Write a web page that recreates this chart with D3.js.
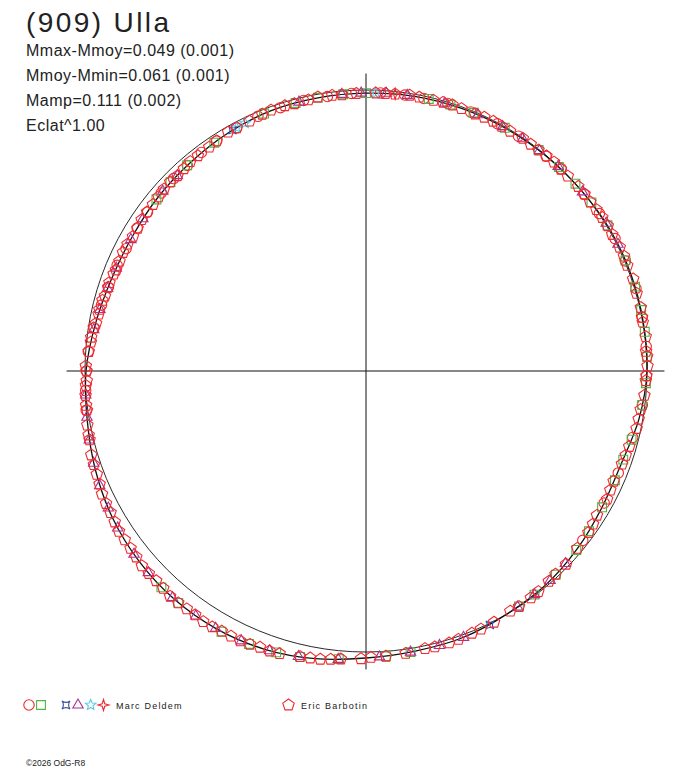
<!DOCTYPE html>
<html>
<head>
<meta charset="utf-8">
<script src="https://cdn.jsdelivr.net/npm/d3@7"></script>
<style>
    body { margin: 0; background: #fff; }
    text { font-family: "Liberation Sans", Arial, sans-serif; fill: #222; }
</style>
</head>
<body>
<script>
// (909) Ulla - polar light curve, phase in degrees (clockwise from top), mag relative to mean

var titleText = "(909) Ulla";
var infoLines = ["Mmax-Mmoy=0.049 (0.001)", "Mmoy-Mmin=0.061 (0.001)", "Mamp=0.111 (0.002)", "Eclat^1.00"];
var observers = ["Marc Deldem", "Eric Barbotin"];
var copyright = "\u00a92026 OdG-R8";

// Fitted curve
var fitPhase = [0, 10, 20, 30, 40, 50, 60, 70, 80, 90, 100, 110, 120, 130, 140, 150, 160, 170,
    180, 190, 200, 210, 220, 230, 240, 250, 260, 270, 280, 290, 300, 310, 320, 330, 340, 350];
var fitMag = [0.012, 0.008, 0.006, 0.004, 0.002, 0.000, -0.004, -0.004, -0.002, 0.000, 0.015, 0.037,
    0.033, 0.019, 0.006, 0.000, -0.010, -0.013, -0.023, -0.042, -0.057, -0.064, -0.064, -0.057,
    -0.045, -0.027, -0.008, 0.004, 0.025, 0.041, 0.045, 0.039, 0.033, 0.023, 0.015, 0.014];

// Observations: [phase, mag]
var deldemCircle = [[262, -0.006], [266, 0.000], [270, 0.005], [274, 0.010], [279, 0.022], [284, 0.033],
    [288, 0.040], [293, 0.042], [297, 0.046], [302, 0.044], [306, 0.043], [311, 0.038], [315, 0.035],
    [319, 0.034], [323, 0.029], [327, 0.027], [332, 0.022], [337, 0.017], [342, 0.016], [347, 0.013],
    [352, 0.015], [357, 0.012], [3, 0.010], [8, 0.009], [12, 0.009], [17, 0.005], [22, 0.006], [28, 0.004],
    [33, 0.004], [40, 0.003], [44, 0.000], [51, 0.001], [56, -0.002], [62, -0.004], [67, -0.003],
    [73, -0.005], [79, -0.001], [85, -0.001], [91, 0.002], [97, 0.010], [104, 0.024], [112, 0.035],
    [119, 0.034], [128, 0.023]];
var deldemSquare = [[0, 0.012], [13, 0.007], [17.6, 0.006], [22.6, 0.005], [29.7, 0.004], [38, 0.002],
    [43.4, 0.001], [48.2, 0.000], [53.2, -0.002], [58.9, -0.004], [66.9, -0.004], [72.6, -0.004],
    [77.5, -0.003], [82, -0.002], [87.1, -0.001], [92.5, 0.003], [97, 0.011], [104.5, 0.026], [109, 0.035],
    [113.7, 0.036], [120, 0.033], [125.7, 0.025], [130.4, 0.019], [137, 0.010], [143, 0.004], [147, 0.001],
    [171, -0.014], [176, -0.019], [185.4, -0.032], [193, -0.047], [197.7, -0.054], [203.2, -0.060],
    [209, -0.064], [219, -0.065], [223.4, -0.063], [309.3, 0.040], [314, 0.036], [319, 0.033],
    [326.4, 0.027], [338.4, 0.016], [345.3, 0.015], [350, 0.014], [355.3, 0.013]];
var deldemConcave = [[154, -0.006], [331, 0.022]];
var deldemTriangle = [[4.2, 0.010], [8.5, 0.009], [16.4, 0.007], [23.6, 0.005], [29.2, 0.004], [34, 0.003],
    [38.2, 0.002], [43.2, 0.001], [50.4, 0.000], [58.4, -0.004], [63.3, -0.004], [134, 0.015],
    [138.7, 0.008], [143, 0.004], [147.3, 0.002], [159.9, -0.010], [165, -0.012], [171, -0.014],
    [177.3, -0.020], [185.5, -0.033], [193.3, -0.047], [199, -0.056], [204.8, -0.061], [210.3, -0.064],
    [214.8, -0.065], [220.5, -0.064], [227.2, -0.059], [231.7, -0.055], [237.7, -0.048], [242, -0.041],
    [246.7, -0.034], [251.3, -0.025], [256, -0.016], [260.6, -0.007], [265.1, -0.001], [278.6, 0.022],
    [283, 0.031], [287.7, 0.038], [292.4, 0.043], [299.2, 0.046], [304.3, 0.043], [311.5, 0.038],
    [316, 0.037], [346, 0.015], [355, 0.013], [359, 0.012]];
var deldemStar = [[332, 0.021], [334, 0.020], [2, 0.011]];
var deldemStar4 = [[6, 0.009]];
var barbotinPentagon = [[2, 0.011], [6, 0.010], [9, 0.007], [14, 0.008], [18, 0.005], [23, 0.007],
    [27, 0.003], [31, 0.005], [34, 0.002], [38, 0.003], [42, 0.000], [46, 0.002], [49, -0.001], [53, 0.001],
    [57, -0.003], [61, -0.002], [64, -0.005], [68, -0.003], [71, -0.006], [74, -0.002], [77, -0.004],
    [80, 0.000], [83, -0.003], [86, 0.001], [89, -0.002], [92, 0.004], [95, 0.006], [98, 0.014],
    [102, 0.017], [106, 0.028], [110, 0.034], [114, 0.039], [118, 0.031], [122, 0.034], [126, 0.024],
    [130, 0.020], [134, 0.011], [139, 0.009], [144, 0.002], [149, 0.003], [153, -0.004], [158, -0.007],
    [163, -0.013], [168, -0.011], [172, -0.016], [176, -0.019], [181, -0.026], [185, -0.031], [189, -0.041],
    [193, -0.046], [197, -0.055], [201, -0.056], [205, -0.063], [209, -0.062], [213, -0.067], [217, -0.063],
    [221, -0.066], [225, -0.059], [229, -0.060], [233, -0.052], [237, -0.051], [241, -0.042], [245, -0.039],
    [249, -0.028], [253, -0.024], [256, -0.015], [259, -0.011], [262, -0.003], [265, -0.002], [268, 0.006],
    [271, 0.003], [274, 0.012], [277, 0.016], [280, 0.027], [283, 0.029], [286, 0.037], [289, 0.038],
    [292, 0.045], [296, 0.042], [300, 0.047], [304, 0.041], [308, 0.042], [312, 0.036], [316, 0.038],
    [320, 0.030], [325, 0.030], [330, 0.020], [335, 0.021], [340, 0.013], [345, 0.017], [350, 0.011],
    [355, 0.015],
    [4, 0.011], [11, 0.008], [16, 0.006], [20, 0.007], [25, 0.004], [29, 0.005], [36, 0.003], [40, 0.001],
    [44, 0.002], [51, -0.001], [55, -0.001], [59, -0.004], [66, -0.005], [79, -0.001], [87, -0.002],
    [91, 0.002], [100, 0.016], [108, 0.031], [116, 0.036], [124, 0.028], [137, 0.012], [142, 0.004],
    [147, 0.000], [156, -0.006], [161, -0.011], [166, -0.013], [179, -0.021], [187, -0.036], [191, -0.043],
    [199, -0.057], [203, -0.060], [207, -0.062], [211, -0.066], [215, -0.063], [219, -0.065], [223, -0.061],
    [227, -0.060], [231, -0.055], [235, -0.051], [239, -0.046], [243, -0.041], [247, -0.032], [251, -0.026],
    [257, -0.014], [263, -0.004], [267, 0.002], [270, 0.006], [276, 0.017], [279, 0.021], [282, 0.030],
    [285, 0.032], [288, 0.039], [291, 0.042], [294, 0.044], [298, 0.043], [302, 0.046], [306, 0.041],
    [310, 0.040], [314, 0.035], [318, 0.035], [322, 0.031], [327, 0.026], [332, 0.022], [338, 0.016],
    [343, 0.014], [348, 0.015], [353, 0.013], [358, 0.013]];

// Custom marker shapes, size = radius in px
var symCircle = { draw: function (c, r) { c.moveTo(r, 0); c.arc(0, 0, r, 0, 2 * Math.PI); } };
var symSquare = { draw: function (c, r) { c.rect(-r, -r, 2 * r, 2 * r); } };
function polygonType(n, inner) {
    return {
        draw: function (c, r) {
            var k = inner ? 2 * n : n;
            for (var i = 0; i < k; i++) {
                var a = -Math.PI / 2 + i * 2 * Math.PI / k;
                var rr = (inner && i % 2) ? r * inner : r;
                if (i === 0) c.moveTo(rr * Math.cos(a), rr * Math.sin(a));
                else c.lineTo(rr * Math.cos(a), rr * Math.sin(a));
            }
            c.closePath();
        }
    };
}
var symConcave = {
    draw: function (c, s) {
        c.moveTo(-s, -s);
        c.quadraticCurveTo(0, -s * 0.3, s, -s);
        c.quadraticCurveTo(s * 0.3, 0, s, s);
        c.quadraticCurveTo(0, s * 0.3, -s, s);
        c.quadraticCurveTo(-s * 0.3, 0, -s, -s);
        c.closePath();
    }
};

var series = [
    { data: deldemCircle, type: symCircle, size: 5.2, color: "#ee2b2f" },
    { data: deldemSquare, type: symSquare, size: 4.4, color: "#52b447" },
    { data: deldemConcave, type: symConcave, size: 4, color: "#3b4fa3" },
    { data: deldemTriangle, type: polygonType(3), size: 6, color: "#a8328e" },
    { data: deldemStar, type: polygonType(5, 0.45), size: 5.5, color: "#5cc8e6" },
    { data: deldemStar4, type: polygonType(4, 0.32), size: 5.5, color: "#e8282e" },
    { data: barbotinPentagon, type: polygonType(5), size: 6, color: "#ee2b2f" }
];

var width = 688, height = 768;
var cx = 366, cy = 371;

var svg = d3.select("body").append("svg")
    .attr("width", width)
    .attr("height", height);

// Scales: phase -> angle, flux -> radius
var angle = d3.scaleLinear().domain([0, 360]).range([0, 2 * Math.PI]);
var radius = d3.scaleLinear().domain([0, 1]).range([0, 281]);
function flux(m) { return Math.pow(10, -0.4 * m); }

var plot = svg.append("g").attr("transform", "translate(" + cx + "," + cy + ")");

// Axes
var ext = radius(1.062);
plot.append("line").attr("x1", -ext - 1).attr("x2", ext).attr("y1", 0).attr("y2", 0)
    .attr("stroke", "#111").attr("stroke-width", 1);
plot.append("line").attr("x1", 0).attr("x2", 0).attr("y1", -ext + 1).attr("y2", ext)
    .attr("stroke", "#111").attr("stroke-width", 1);

// Mean circle
plot.append("circle").attr("r", radius(1))
    .attr("fill", "none").attr("stroke", "#111").attr("stroke-width", 0.9);

// Fitted curve
var fit = fitPhase.map(function (p, i) { return [p, fitMag[i]]; });
var fitLine = d3.lineRadial()
    .angle(function (d) { return angle(d[0]); })
    .radius(function (d) { return radius(flux(d[1])); })
    .curve(d3.curveCatmullRomClosed);
plot.append("path").datum(fit)
    .attr("d", fitLine)
    .attr("fill", "none").attr("stroke", "#111").attr("stroke-width", 1.3);

// Observations
series.forEach(function (s) {
    var sym = d3.symbol().type(s.type).size(s.size);
    plot.append("g").selectAll("path")
        .data(s.data)
        .join("path")
        .attr("transform", function (d) {
            var p = d3.pointRadial(angle(d[0]), radius(flux(d[1])));
            return "translate(" + p[0] + "," + p[1] + ")";
        })
        .attr("d", sym)
        .attr("fill", "none")
        .attr("stroke", s.color)
        .attr("stroke-width", 1.1);
});

// Title and info
svg.append("text").attr("x", 26).attr("y", 32)
    .attr("font-size", "28px").attr("letter-spacing", "2.4px").text(titleText);
svg.selectAll(".info").data(infoLines).join("text")
    .attr("class", "info")
    .attr("x", 26).attr("y", function (d, i) { return 56 + i * 25; })
    .attr("font-size", "16px").attr("letter-spacing", "0.5px")
    .text(function (d) { return d; });

// Legend
var legendY = 705;
var legendMarks = [[29, 0], [41, 1], [66, 2], [78, 3], [90.7, 4], [103.5, 5], [288.5, 6]];
legendMarks.forEach(function (m) {
    var s = series[m[1]];
    svg.append("path")
        .attr("transform", "translate(" + m[0] + "," + legendY + ")")
        .attr("d", d3.symbol().type(s.type).size(s.size))
        .attr("fill", "none").attr("stroke", s.color).attr("stroke-width", 1.1);
});
svg.append("text").attr("x", 116).attr("y", legendY + 4)
    .attr("font-size", "9px").attr("letter-spacing", "1.2px").text(observers[0]);
svg.append("text").attr("x", 301).attr("y", legendY + 4)
    .attr("font-size", "9px").attr("letter-spacing", "1.2px").text(observers[1]);

svg.append("text").attr("x", 26).attr("y", 766)
    .attr("font-size", "8.5px").text(copyright);
</script>
</body>
</html>
